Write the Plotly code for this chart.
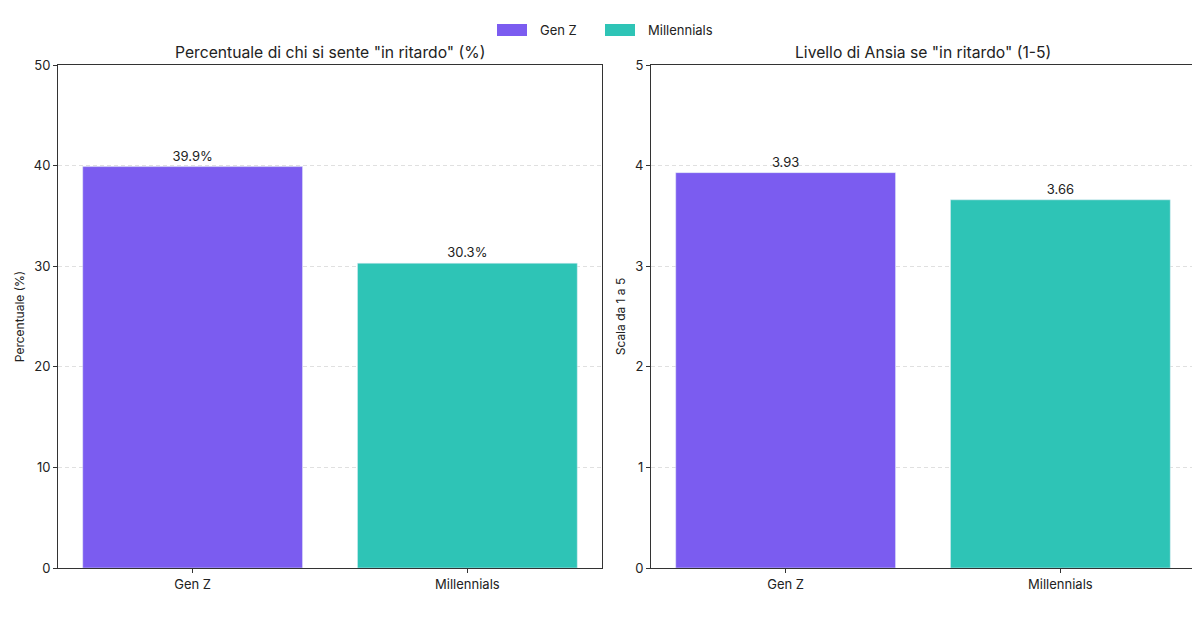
import plotly.graph_objects as go
from plotly.subplots import make_subplots

categories = ["Gen Z", "Millennials"]
pct_values = [39.9, 30.3]
anx_values = [3.93, 3.66]
colors = ["#7B5CF0", "#2EC4B6"]
titles = ['Percentuale di chi si sente "in ritardo" (%)', 'Livello di Ansia se "in ritardo" (1-5)']

FONT = "Inter"
W, H = 1200, 628
OFF = 8  # page body margin offset
L, R, T, B = 0, 0, 65 - OFF, 60 + OFF
PH = H - T - B

fig = make_subplots(rows=1, cols=2)

for i, cat in enumerate(categories):
    fig.add_trace(go.Bar(x=[cat], y=[pct_values[i]], name=cat, marker_color=colors[i],
                         width=0.8, text=[f"{pct_values[i]:.1f}%"], textposition="outside",
                         textfont=dict(size=13, color="#222"), cliponaxis=False,
                         showlegend=False), row=1, col=1)
    fig.add_trace(go.Bar(x=[cat], y=[anx_values[i]], name=cat, marker_color=colors[i],
                         width=0.8, text=[f"{anx_values[i]:.2f}"], textposition="outside",
                         textfont=dict(size=13, color="#222"), cliponaxis=False,
                         showlegend=False), row=1, col=2)

axcommon = dict(showline=True, mirror=True, linecolor="#333", linewidth=1,
                ticks="outside", ticklen=4, tickcolor="#333", automargin=False,
                tickfont=dict(size=13, color="#222"))

fig.update_xaxes(**axcommon, range=[-0.49, 1.49], showgrid=False)
fig.update_xaxes(domain=[(58 - OFF) / W, (602 - OFF) / W], row=1, col=1)
fig.update_xaxes(domain=[(651 - OFF) / W, (1195 - OFF) / W], row=1, col=2)

fig.update_yaxes(**axcommon, showgrid=True, gridcolor="#E0E0E0", griddash="4px,3px", gridwidth=1,
                 zeroline=False)
fig.update_yaxes(range=[0, 50], dtick=10, row=1, col=1,
                 title=dict(text="Percentuale (%)", font=dict(size=12, color="#222"), standoff=6))
fig.update_yaxes(range=[0, 5], dtick=1, row=1, col=2,
                 title=dict(text="Scala da 1 a 5", font=dict(size=12, color="#222"), standoff=6))

for j, t in enumerate(titles):
    xc = ((58 + 602) / 2 - OFF) / W if j == 0 else ((651 + 1195) / 2 - OFF) / W
    fig.add_annotation(text=t, x=xc, xref="paper", y=1, yref="paper", yshift=1,
                       yanchor="bottom", xanchor="center", showarrow=False,
                       font=dict(size=15.7, color="#222"))

# custom legend with wide rectangular swatches
legend_x = [497, 605]
for i, cat in enumerate(categories):
    x0 = legend_x[i] - OFF
    ytop, ybot = 24 - OFF, 36 - OFF
    fig.add_shape(type="rect", xref="paper", yref="paper",
                  x0=x0 / W, x1=(x0 + 30) / W,
                  y0=(H - B - ybot) / PH, y1=(H - B - ytop) / PH,
                  fillcolor=colors[i], line=dict(width=0))
    fig.add_annotation(text=cat, xref="paper", yref="paper",
                       x=(x0 + 41) / W, y=(H - B - (ytop + ybot) / 2) / PH,
                       xanchor="left", yanchor="middle", showarrow=False,
                       font=dict(size=13, color="#222"))

fig.update_layout(
    width=W, height=H,
    margin=dict(l=L, r=R, t=T, b=B, autoexpand=False),
    paper_bgcolor="white", plot_bgcolor="white",
    font=dict(family=FONT, color="#222"),
    showlegend=False,
)

fig.write_html("out.html")
